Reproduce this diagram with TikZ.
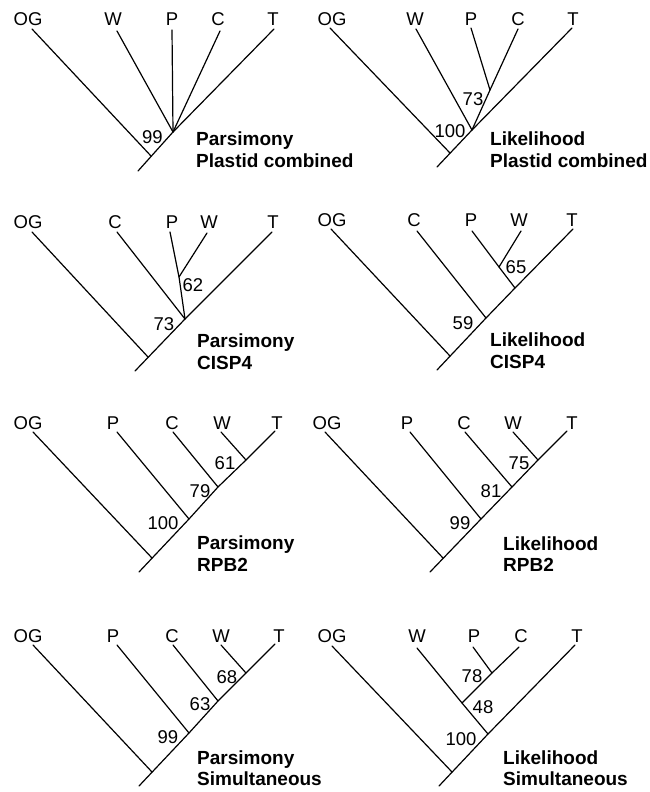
\documentclass[tikz,border=0pt]{standalone}
\usepackage{fontspec}
\setmainfont{Liberation Sans}
\newcommand\lblfont{\fontsize{18.5}{22}\selectfont}
\newcommand\ttlfont{\fontsize{19}{22}\selectfont\bfseries}
\begin{document}
\begin{tikzpicture}[x=1pt,y=-1pt,
  br/.style={line width=1.2pt, line cap=round, line join=round},
  tax/.style={anchor=base, font=\lblfont, inner sep=0pt},
  sup/.style={anchor=base, font=\lblfont, inner sep=0pt},
  ttl/.style={anchor=base west, font=\ttlfont, inner sep=0pt}]
\useasboundingbox (0,0) rectangle (649,792);

% ---------- Tree 1: Parsimony, Plastid combined ----------
\coordinate (a-og) at (32,29);  \coordinate (a-w) at (117,31);
\coordinate (a-p) at (172,30);  \coordinate (a-c) at (220,31);
\coordinate (a-t) at (274,29);  \coordinate (a-n) at (173,132);
\coordinate (a-j) at (151,156); \coordinate (a-r) at (138,171);
\draw[br] (a-r) -- (a-n) -- (a-t);
\draw[br] (a-og) -- (a-j);
\draw[br] (a-w) -- (a-n);
\draw[br] (a-p) -- (a-n);
\draw[br] (a-c) -- (a-n);
\node[tax] (a-lOG) at (28,25.5) {OG};
\node[tax] (a-lW) at (113,25.5) {W};
\node[tax] (a-lP) at (172,25.5) {P};
\node[tax] (a-lC) at (218,25.5) {C};
\node[tax] (a-lT) at (273,25.5) {T};
\node[sup] (a-s1) at (152.5,143) {99};
\node[ttl] (a-t1) at (196,145) {Parsimony};
\node[ttl] (a-t2) at (196,167) {Plastid combined};

% ---------- Tree 2: Likelihood, Plastid combined ----------
\coordinate (b-og) at (330,28); \coordinate (b-w) at (416,29);
\coordinate (b-p) at (471,28);  \coordinate (b-c) at (518,29);
\coordinate (b-t) at (572,28);  \coordinate (b-n1) at (472,130);
\coordinate (b-n2) at (490,90); \coordinate (b-j) at (450,153);
\coordinate (b-r) at (437,167);
\draw[br] (b-r) -- (b-n1) -- (b-t);
\draw[br] (b-og) -- (b-j);
\draw[br] (b-w) -- (b-n1);
\draw[br] (b-c) -- (b-n2) -- (b-n1);
\draw[br] (b-p) -- (b-n2);
\node[tax] (b-lOG) at (332,25.5) {OG};
\node[tax] (b-lW) at (415,25.5) {W};
\node[tax] (b-lP) at (471,25.5) {P};
\node[tax] (b-lC) at (518,25.5) {C};
\node[tax] (b-lT) at (573,25.5) {T};
\node[sup] (b-s1) at (473,105) {73};
\node[sup] (b-s2) at (450,137) {100};
\node[ttl] (b-t1) at (490,145) {Likelihood};
\node[ttl] (b-t2) at (490,167) {Plastid combined};

% ---------- Tree 3: Parsimony, CISP4 ----------
\coordinate (c-og) at (32,232); \coordinate (c-c) at (117,232);
\coordinate (c-p) at (170,232); \coordinate (c-w) at (207,233);
\coordinate (c-t) at (272,232); \coordinate (c-n1) at (179,277);
\coordinate (c-n2) at (185,319); \coordinate (c-j) at (148,357);
\coordinate (c-r) at (135,371);
\draw[br] (c-r) -- (c-n2) -- (c-t);
\draw[br] (c-og) -- (c-j);
\draw[br] (c-c) -- (c-n2);
\draw[br] (c-p) -- (c-n1) -- (c-n2);
\draw[br] (c-w) -- (c-n1);
\node[tax] (c-lOG) at (28,228) {OG};
\node[tax] (c-lC) at (115,228) {C};
\node[tax] (c-lP) at (172,228) {P};
\node[tax] (c-lW) at (209,228) {W};
\node[tax] (c-lT) at (273,228) {T};
\node[sup] (c-s1) at (193,291) {62};
\node[sup] (c-s2) at (164,330) {73};
\node[ttl] (c-t1) at (197,347) {Parsimony};
\node[ttl] (c-t2) at (197,369) {CISP4};

% ---------- Tree 4: Likelihood, CISP4 ----------
\coordinate (d-og) at (331,229); \coordinate (d-c) at (417,231);
\coordinate (d-p) at (472,231);  \coordinate (d-w) at (521,231);
\coordinate (d-t) at (573,229);  \coordinate (d-n1) at (499,267);
\coordinate (d-n2) at (515,288); \coordinate (d-n3) at (486,318);
\coordinate (d-j) at (450,356);  \coordinate (d-r) at (437,370);
\draw[br] (d-r) -- (d-n3) -- (d-n2) -- (d-t);
\draw[br] (d-og) -- (d-j);
\draw[br] (d-c) -- (d-n3);
\draw[br] (d-p) -- (d-n1) -- (d-n2);
\draw[br] (d-w) -- (d-n1);
\node[tax] (d-lOG) at (332,226) {OG};
\node[tax] (d-lC) at (414,226) {C};
\node[tax] (d-lP) at (471,226) {P};
\node[tax] (d-lW) at (519,226) {W};
\node[tax] (d-lT) at (572,226) {T};
\node[sup] (d-s1) at (516,273) {65};
\node[sup] (d-s2) at (463,329) {59};
\node[ttl] (d-t1) at (490,346) {Likelihood};
\node[ttl] (d-t2) at (490,368) {CISP4};

% ---------- Tree 5: Parsimony, RPB2 ----------
\coordinate (e-og) at (33,432); \coordinate (e-p) at (117,432);
\coordinate (e-c) at (173,432); \coordinate (e-w) at (221,432);
\coordinate (e-t) at (275,431); \coordinate (e-n1) at (246,460);
\coordinate (e-n2) at (218,487); \coordinate (e-n3) at (189,519);
\coordinate (e-j) at (152,558); \coordinate (e-r) at (139,572);
\draw[br] (e-r) -- (e-n3) -- (e-n2) -- (e-n1) -- (e-t);
\draw[br] (e-og) -- (e-j);
\draw[br] (e-p) -- (e-n3);
\draw[br] (e-c) -- (e-n2);
\draw[br] (e-w) -- (e-n1);
\node[tax] (e-lOG) at (28,429) {OG};
\node[tax] (e-lP) at (113,429) {P};
\node[tax] (e-lC) at (172,429) {C};
\node[tax] (e-lW) at (222,429) {W};
\node[tax] (e-lT) at (277,429) {T};
\node[sup] (e-s1) at (225,469) {61};
\node[sup] (e-s2) at (200,497) {79};
\node[sup] (e-s3) at (163,529) {100};
\node[ttl] (e-t1) at (197,549) {Parsimony};
\node[ttl] (e-t2) at (197,571) {RPB2};

% ---------- Tree 6: Likelihood, RPB2 ----------
\coordinate (f-og) at (325,432); \coordinate (f-p) at (410,432);
\coordinate (f-c) at (465,432);  \coordinate (f-w) at (513,432);
\coordinate (f-t) at (567,431);  \coordinate (f-n1) at (538,460);
\coordinate (f-n2) at (512,487); \coordinate (f-n3) at (481,519);
\coordinate (f-j) at (443,558);  \coordinate (f-r) at (430,572);
\draw[br] (f-r) -- (f-n3) -- (f-n2) -- (f-n1) -- (f-t);
\draw[br] (f-og) -- (f-j);
\draw[br] (f-p) -- (f-n3);
\draw[br] (f-c) -- (f-n2);
\draw[br] (f-w) -- (f-n1);
\node[tax] (f-lOG) at (327,429) {OG};
\node[tax] (f-lP) at (407,429) {P};
\node[tax] (f-lC) at (464,429) {C};
\node[tax] (f-lW) at (513,429) {W};
\node[tax] (f-lT) at (572,429) {T};
\node[sup] (f-s1) at (519,469) {75};
\node[sup] (f-s2) at (491,497) {81};
\node[sup] (f-s3) at (460,529) {99};
\node[ttl] (f-t1) at (503,550) {Likelihood};
\node[ttl] (f-t2) at (503,571) {RPB2};

% ---------- Tree 7: Parsimony, Simultaneous ----------
\coordinate (g-og) at (33,645); \coordinate (g-p) at (117,645);
\coordinate (g-c) at (173,645); \coordinate (g-w) at (221,645);
\coordinate (g-t) at (275,644); \coordinate (g-n1) at (246,673);
\coordinate (g-n2) at (218,701); \coordinate (g-n3) at (189,733);
\coordinate (g-j) at (152,772); \coordinate (g-r) at (139,786);
\draw[br] (g-r) -- (g-n3) -- (g-n2) -- (g-n1) -- (g-t);
\draw[br] (g-og) -- (g-j);
\draw[br] (g-p) -- (g-n3);
\draw[br] (g-c) -- (g-n2);
\draw[br] (g-w) -- (g-n1);
\node[tax] (g-lOG) at (28,642) {OG};
\node[tax] (g-lP) at (113,642) {P};
\node[tax] (g-lC) at (172,642) {C};
\node[tax] (g-lW) at (221,642) {W};
\node[tax] (g-lT) at (279,642) {T};
\node[sup] (g-s1) at (227,683) {68};
\node[sup] (g-s2) at (200,710) {63};
\node[sup] (g-s3) at (168,743) {99};
\node[ttl] (g-t1) at (197,764) {Parsimony};
\node[ttl] (g-t2) at (197,785) {Simultaneous};

% ---------- Tree 8: Likelihood, Simultaneous ----------
\coordinate (h-og) at (332,646); \coordinate (h-w) at (417,648);
\coordinate (h-p) at (473,647);  \coordinate (h-c) at (519,647);
\coordinate (h-t) at (575,645);  \coordinate (h-n1) at (492,673);
\coordinate (h-n2) at (462,703); \coordinate (h-n3) at (488,734);
\coordinate (h-j) at (452,772);  \coordinate (h-r) at (439,786);
\draw[br] (h-r) -- (h-n3) -- (h-t);
\draw[br] (h-og) -- (h-j);
\draw[br] (h-w) -- (h-n2) -- (h-n3);
\draw[br] (h-c) -- (h-n1) -- (h-n2);
\draw[br] (h-p) -- (h-n1);
\node[tax] (h-lOG) at (332,642) {OG};
\node[tax] (h-lW) at (417,642) {W};
\node[tax] (h-lP) at (474,642) {P};
\node[tax] (h-lC) at (521,642) {C};
\node[tax] (h-lT) at (577,642) {T};
\node[sup] (h-s1) at (472,682) {78};
\node[sup] (h-s2) at (483,713) {48};
\node[sup] (h-s3) at (461,745) {100};
\node[ttl] (h-t1) at (503,764) {Likelihood};
\node[ttl] (h-t2) at (503,785) {Simultaneous};
\end{tikzpicture}
\end{document}
